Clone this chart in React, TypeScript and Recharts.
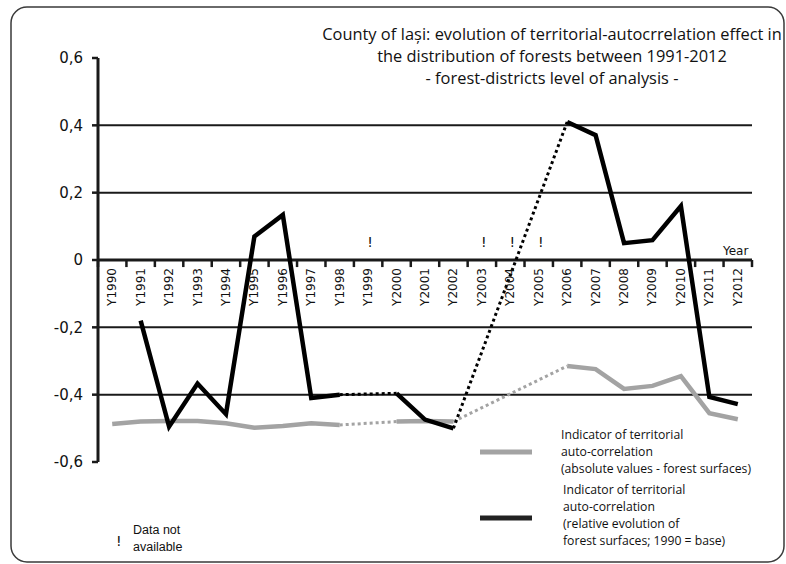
import React from 'react';
import { LineChart, Line, XAxis, YAxis, ReferenceLine } from 'recharts';

// ---- data ----
const years = [
  'Y1990', 'Y1991', 'Y1992', 'Y1993', 'Y1994', 'Y1995', 'Y1996', 'Y1997', 'Y1998', 'Y1999', 'Y2000', 'Y2001',
  'Y2002', 'Y2003', 'Y2004', 'Y2005', 'Y2006', 'Y2007', 'Y2008', 'Y2009', 'Y2010', 'Y2011', 'Y2012',
];
// relative evolution of forest surfaces; 1990 = base (black)
const relativeEvolution: (number | null)[] = [
  null, -0.18, -0.495, -0.367, -0.458, 0.07, 0.134, -0.41, -0.40, null, -0.396, -0.474,
  -0.50, null, null, null, 0.41, 0.371, 0.05, 0.059, 0.16, -0.407, -0.428,
];
// absolute values - forest surfaces (grey)
const absoluteValues: (number | null)[] = [
  -0.487, -0.48, -0.478, -0.478, -0.485, -0.498, -0.493, -0.485, -0.49, null, -0.48, -0.478,
  -0.48, null, null, null, -0.315, -0.324, -0.383, -0.374, -0.345, -0.455, -0.473,
];
// missing-data gaps bridged by dotted segments: [from index, to index]
const gapSegments: [number, number][] = [[8, 10], [12, 16]];
// years where data are not available
const naYears = ['Y1999', 'Y2003', 'Y2004', 'Y2005'];
const naMarkLevel = 0.055;
const yTicks = [-0.6, -0.4, -0.2, 0, 0.2, 0.4, 0.6];
const gridValues = [-0.4, -0.2, 0.2, 0.4];

const titleLines = [
  'County of Iași: evolution of territorial-autocrrelation effect in',
  'the distribution of forests between 1991-2012',
  '- forest-districts level of analysis -',
];
const legendAbs = ['Indicator of territorial', 'auto-correlation', '(absolute values - forest surfaces)'];
const legendRel = ['Indicator of territorial', 'auto-correlation', '(relative evolution of', 'forest surfaces; 1990 = base)'];

const rows = years.map((year, i) => {
  const row: any = {
    x: i,
    year,
    rel: relativeEvolution[i],
    abs: absoluteValues[i],
    axis: 0,
    na: naYears.includes(year) ? naMarkLevel : null,
  };
  gapSegments.forEach(([a, b], k) => {
    row['relGap' + k] = i === a || i === b ? relativeEvolution[i] : null;
    row['absGap' + k] = i === a || i === b ? absoluteValues[i] : null;
  });
  return row;
});
const boundaries = years.map((_, i) => i - 0.5).concat([years.length - 0.5]);

const BLACK = '#000000';
const GREY = '#a3a3a3';
const AXIS = '#1a1a1a';
const TEXT_FONT = 'Open Sans';

const fmt = (v: number) => (v === 0 ? '0' : v.toFixed(1).replace('.', ','));

const renderYearLabel = (p: any) => {
  const { cx, cy, payload, index } = p;
  if (cx == null || cy == null) return <g key={'yl' + index} />;
  const y = cy + 8;
  return (
    <text
      key={'yl' + index}
      x={cx}
      y={y}
      transform={`rotate(-90 ${cx} ${y})`}
      textAnchor="end"
      dominantBaseline="central"
      fontSize={12}
      fontFamily="DejaVu Sans"
      fill="#111"
    >
      {payload.year}
    </text>
  );
};

const renderNa = (p: any) => {
  const { cx, cy, index } = p;
  if (cx == null || cy == null || Number.isNaN(cy)) return <g key={'na' + index} />;
  return (
    <text key={'na' + index} x={cx + 2} y={cy + 6} textAnchor="middle" fontSize={14} fontFamily="DejaVu Sans" fill="#111">
      !
    </text>
  );
};

export default function App() {
  return (
    <div style={{ position: 'absolute', left: 0, top: 0, width: 786, height: 564, background: '#fff' }}>
      <svg width={786} height={564} style={{ position: 'absolute', left: 0, top: 0 }}>
        <rect x={11} y={7} width={773} height={555} rx={16} ry={16} fill="none" stroke="#3a3a3a" strokeWidth={1.5} />
        {titleLines.map((t, i) => (
          <text key={i} x={552} y={40 + i * 22} textAnchor="middle" fontSize={16.4} fontFamily={TEXT_FONT} fill="#111">
            {t}
          </text>
        ))}
        <text x={723} y={255} fontSize={12} fontFamily="DejaVu Sans" fill="#111">Year</text>
        <line x1={480} y1={452} x2={532} y2={452} stroke={GREY} strokeWidth={5} />
        {legendAbs.map((t, i) => (
          <text key={i} x={561} y={439 + i * 17} fontSize={12.2} fontFamily={TEXT_FONT} fill="#111">{t}</text>
        ))}
        <line x1={480} y1={518} x2={532} y2={518} stroke="#222" strokeWidth={5} />
        {legendRel.map((t, i) => (
          <text key={i} x={563} y={494 + i * 17} fontSize={12.2} fontFamily={TEXT_FONT} fill="#111">{t}</text>
        ))}
        <text x={116} y={546} fontSize={14} fontFamily="DejaVu Sans" fill="#111">!</text>
        <text x={133} y={534} fontSize={12.5} fontFamily="Liberation Sans" fill="#111">Data not</text>
        <text x={133} y={551} fontSize={12.5} fontFamily="Liberation Sans" fill="#111">available</text>
      </svg>
      <div style={{ position: 'absolute', left: 0, top: 0 }}>
        <LineChart width={786} height={564} data={rows} margin={{ top: 58, right: 34, bottom: 102, left: 0 }}>
          <XAxis type="number" dataKey="x" domain={[-0.5, years.length - 0.5]} hide allowDataOverflow />
          <YAxis
            type="number"
            domain={[-0.6, 0.6]}
            ticks={yTicks}
            interval={0}
            width={98}
            allowDataOverflow
            tickFormatter={fmt}
            axisLine={{ stroke: AXIS, strokeWidth: 3 }}
            tickLine={{ stroke: AXIS, strokeWidth: 2.5 }}
            tickSize={6}
            tickMargin={9}
            tick={{ fill: '#111', fontSize: 15, fontFamily: 'DejaVu Sans' }}
          />
          {gridValues.map((v) => (
            <ReferenceLine key={'g' + v} y={v} stroke={AXIS} strokeWidth={2} />
          ))}
          <ReferenceLine y={0} stroke={AXIS} strokeWidth={3} />
          {boundaries.map((b) => (
            <ReferenceLine key={'t' + b} segment={[{ x: b, y: 0 }, { x: b, y: -0.021 }]} stroke={AXIS} strokeWidth={2.5} />
          ))}
          <Line dataKey="axis" stroke="none" dot={renderYearLabel} activeDot={false} isAnimationActive={false} />
          <Line dataKey="na" stroke="none" dot={renderNa} activeDot={false} isAnimationActive={false} />
          {gapSegments.map((_, k) => (
            <Line key={'ag' + k} dataKey={'absGap' + k} connectNulls stroke={GREY} strokeWidth={3} strokeDasharray="3 3" dot={false} activeDot={false} isAnimationActive={false} />
          ))}
          <Line dataKey="abs" stroke={GREY} strokeWidth={4.5} dot={false} activeDot={false} isAnimationActive={false} />
          {gapSegments.map((_, k) => (
            <Line key={'rg' + k} dataKey={'relGap' + k} connectNulls stroke={BLACK} strokeWidth={3} strokeDasharray="3 3" dot={false} activeDot={false} isAnimationActive={false} />
          ))}
          <Line dataKey="rel" stroke={BLACK} strokeWidth={4.5} dot={false} activeDot={false} isAnimationActive={false} />
        </LineChart>
      </div>
    </div>
  );
}
